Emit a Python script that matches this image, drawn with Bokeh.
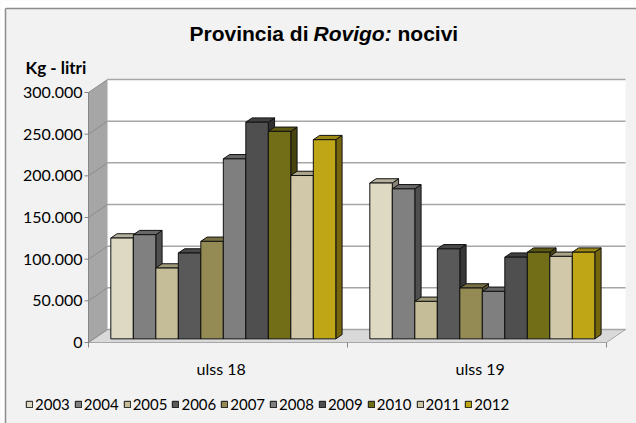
from bokeh.plotting import figure
from bokeh.models import Range1d, Label, Legend, LegendItem, ColumnDataSource
from bokeh.embed import file_html
from bokeh.resources import INLINE
from bokeh.core.properties import value

# ---------------- data ----------------
categories = ["ulss 18", "ulss 19"]
years = ["2003", "2004", "2005", "2006", "2007", "2008", "2009", "2010", "2011", "2012"]
ulss18 = [121000, 125000, 85000, 103000, 117000, 216000, 260000, 249000, 196000, 239000]
ulss19 = [187000, 180000, 45000, 108000, 61000, 57000, 98000, 104000, 99000, 104000]
y_ticks = [0, 50000, 100000, 150000, 200000, 250000, 300000]
y_tick_labels = ["0", "50.000", "100.000", "150.000", "200.000", "250.000", "300.000"]
title_parts = ["Provincia di", "Rovigo:", "nocivi"]
y_title = "Kg - litri"

colors = ["#ddd9c3", "#808080", "#c4bd97", "#595959", "#948a54",
          "#7f7f7f", "#4f4f4f", "#726d17", "#d0c8a8", "#bfa616"]

# ---------------- layout (page pixels) ----------------
W, H = 636, 423
ORIGIN_PX = 88.0               # page x of the front-left floor corner
PX_CAT = 259.0                 # pixels per category on the front plane
ZERO_PY = 342.0                # page y of value 0 on front plane
PX_PER_VAL = 250.0 / 300000.0  # pixels per unit of value
VAL_PER_PX = 1.0 / PX_PER_VAL
DEPTH_PX = (19.0, 13.0)        # 3d depth offset of the walls
F0, F1 = 0.28, 0.61            # bar depth (fraction of full depth)
FONT = "Lato"


def X(px):
    return (px - ORIGIN_PX) / PX_CAT


def Y(py):
    return (ZERO_PY - py) * VAL_PER_PX


DDX = DEPTH_PX[0] / PX_CAT
DDY = DEPTH_PX[1] * VAL_PER_PX

p = figure(width=W, height=H, output_backend="svg", toolbar_location=None,
           x_range=Range1d(X(0), X(W)), y_range=Range1d(Y(H), Y(0)),
           x_axis_location=None, y_axis_location=None,
           min_border_left=0, min_border_right=0, min_border_top=0, min_border_bottom=0)
p.background_fill_color = "#f2f2f2"
p.border_fill_color = "#f2f2f2"
p.outline_line_color = None
p.xgrid.visible = False
p.ygrid.visible = False

# page margin outside the chart box + box border
p.quad(left=[X(0), X(0)], right=[X(W), X(5)], bottom=[Y(8), Y(H)], top=[Y(0), Y(0)],
       fill_color="#ffffff", line_color=None)
p.segment([X(5), X(5)], [Y(8), Y(8)], [X(W), X(5)], [Y(8), Y(H)],
          line_color="#8c8c8c", line_width=1.5)

n = len(categories)
top_val = y_ticks[-1]

# walls
p.patch([DDX, n + DDX, n + DDX, DDX], [DDY, DDY, top_val + DDY, top_val + DDY],
        fill_color="#ffffff", line_color=None)
p.patch([0, DDX, DDX, 0], [0, DDY, top_val + DDY, top_val],
        fill_color="#a6a6a6", line_color=None)
p.patch([0, n, n + DDX, DDX], [0, 0, DDY, DDY],
        fill_color="#d9d9d9", line_color="#a6a6a6", line_width=1)

# gridlines on back wall and side wall
gx0 = [DDX] * len(y_ticks)
gx1 = [n + DDX] * len(y_ticks)
gy = [t + DDY for t in y_ticks]
p.segment(gx0, gy, gx1, gy, line_color="#a6a6a6", line_width=1.5)
p.segment([0] * len(y_ticks), y_ticks, gx0, gy, line_color="#8c8c8c", line_width=1)
# front edge of the side wall (axis line) and y ticks
p.segment([0], [0], [0], [top_val], line_color="#868686", line_width=1)
p.segment([X(ORIGIN_PX - 4)] * len(y_ticks), y_ticks, [0] * len(y_ticks), y_ticks,
          line_color="#868686", line_width=1)
p.text([X(ORIGIN_PX - 6)] * len(y_ticks), y_ticks, text=y_tick_labels,
       text_font=value(FONT), text_font_size="16px", text_color="#000000",
       text_align="right", text_baseline="middle")
# category ticks
bx = list(range(n + 1))
p.segment(bx, [0] * len(bx), bx, [-5 * VAL_PER_PX] * len(bx), line_color="#868686", line_width=1)

# bars
nb = len(years)
bw = 22.5 / PX_CAT
g0 = (1 - nb * bw) / 2
bdx = (F1 - F0) * DDX
bdy = (F1 - F0) * DDY
series = [ulss18, ulss19]
items = []
for j, yr in enumerate(years):
    vals = [series[i][j] for i in range(n)]
    xl = [i + g0 + j * bw + F0 * DDX for i in range(n)]
    xr = [x + bw for x in xl]
    bot = [F0 * DDY] * n
    top = [v + F0 * DDY for v in vals]
    c = colors[j]
    r_, g_, b_ = int(c[1:3], 16), int(c[3:5], 16), int(c[5:7], 16)
    side_c = "#%02x%02x%02x" % (int(r_ * 0.62), int(g_ * 0.62), int(b_ * 0.62))
    top_c = "#%02x%02x%02x" % (int(r_ * 0.82), int(g_ * 0.82), int(b_ * 0.82))
    side_xs = [[xr[i], xr[i] + bdx, xr[i] + bdx, xr[i]] for i in range(n)]
    side_ys = [[bot[i], bot[i] + bdy, top[i] + bdy, top[i]] for i in range(n)]
    top_xs = [[xl[i], xr[i], xr[i] + bdx, xl[i] + bdx] for i in range(n)]
    top_ys = [[top[i], top[i], top[i] + bdy, top[i] + bdy] for i in range(n)]
    p.patches(side_xs, side_ys, fill_color=side_c, line_color="#111111", line_width=1)
    p.patches(top_xs, top_ys, fill_color=top_c, line_color="#111111", line_width=1)
    src = ColumnDataSource(dict(left=xl, right=xr, bottom=bot, top=top))
    r = p.quad(left="left", right="right", bottom="bottom", top="top", source=src,
               fill_color=c, line_color="#111111", line_width=1)
    items.append(LegendItem(label=yr, renderers=[r]))

# category labels
p.text([i + 0.5 + 0.6 * F0 * DDX for i in range(n)], [Y(368)] * n, text=categories,
       text_font=value(FONT), text_font_size="16px", text_color="#000000",
       text_align="center", text_baseline="middle")

# legend
legend = Legend(items=items, orientation="horizontal", location=(25, 10),
                glyph_width=8, glyph_height=8, label_standoff=2, spacing=4,
                padding=0, margin=0, background_fill_alpha=0, border_line_color=None,
                label_text_font=FONT, label_text_font_size="15px",
                label_text_color="#000000")
p.add_layout(legend)

# title
ty = Y(33)
p.add_layout(Label(x=X(308), y=ty, text=title_parts[0], text_align="right", text_baseline="middle",
                   text_font="Liberation Sans", text_font_style="bold", text_font_size="21px",
                   text_color="#000000"))
p.add_layout(Label(x=X(313), y=ty, text=title_parts[1], text_align="left", text_baseline="middle",
                   text_font="Liberation Sans", text_font_style="bold italic", text_font_size="21px",
                   text_color="#000000"))
p.add_layout(Label(x=X(397), y=ty, text=title_parts[2], text_align="left", text_baseline="middle",
                   text_font="Liberation Sans", text_font_style="bold", text_font_size="21px",
                   text_color="#000000"))
# axis title
p.add_layout(Label(x=X(25), y=Y(67), text=y_title, text_align="left", text_baseline="middle",
                   text_font=FONT, text_font_style="bold", text_font_size="17px",
                   text_color="#000000"))

open("out.html", "w").write(file_html(p, INLINE))
